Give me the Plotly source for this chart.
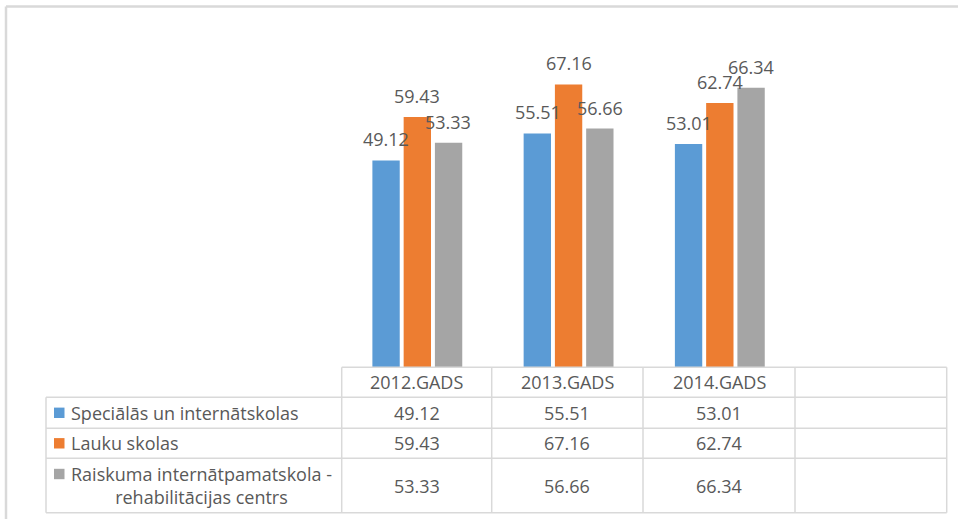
import plotly.graph_objects as go

# Data
years = ["2012.GADS", "2013.GADS", "2014.GADS"]
series_names = ["Speciālās un internātskolas", "Lauku skolas",
                "Raiskuma internātpamatskola -<br>rehabilitācijas centrs"]
specialas = [49.12, 55.51, 53.01]
lauku = [59.43, 67.16, 62.74]
raiskuma = [53.33, 56.66, 66.34]
colors = ["#5B9BD5", "#ED7D31", "#A5A5A5"]

W, H = 958, 519
FONT = "Open Sans"
TXT = "#595959"
GRID = "#d9d9d9"


def px(x):
    return x / W


def py(y):
    return (H - y) / H


# table geometry (pixels)
col_x = [341.7, 491.7, 643.0, 795.0, 946.7]
row_y = [367.3, 397.3, 428.3, 458.3, 512.7]
label_left = 46

fig = go.Figure()
all_values = [specialas, lauku, raiskuma]
cats = years + [" "]
for name, vals, col in zip(series_names, all_values, colors):
    fig.add_trace(go.Bar(x=years, y=vals, name=name, marker=dict(color=col, line=dict(width=0)),
                         showlegend=False, hoverinfo="x+y"))

slot = (col_x[1] - col_x[0]) * (1 - 0.38) / 3
# data labels above bars
for i, vals in enumerate(all_values):
    for yr, v in zip(years, vals):
        fig.add_annotation(x=yr, y=v, xref="x", yref="y", text=f"{v:.2f}", showarrow=False,
                           xanchor="center", yanchor="bottom", yshift=7, xshift=(i - 1) * slot,
                           font=dict(family=FONT, size=18, color=TXT))

shapes = []
line = dict(color=GRID, width=1.5)
# outer frame
shapes.append(dict(type="line", xref="paper", yref="paper", x0=px(6), x1=px(958), y0=py(6.5), y1=py(6.5),
                   line=dict(color=GRID, width=2.5)))
shapes.append(dict(type="line", xref="paper", yref="paper", x0=px(6), x1=px(6), y0=py(6.5), y1=py(519),
                   line=dict(color=GRID, width=2.5)))
# table horizontal lines
for k, yy in enumerate(row_y):
    x0 = col_x[0] if k == 0 else label_left
    shapes.append(dict(type="line", xref="paper", yref="paper", x0=px(x0), x1=px(col_x[-1]),
                       y0=py(yy), y1=py(yy), line=line))
# table vertical lines
for xx in col_x:
    shapes.append(dict(type="line", xref="paper", yref="paper", x0=px(xx), x1=px(xx),
                       y0=py(row_y[0]), y1=py(row_y[-1]), line=line))
shapes.append(dict(type="line", xref="paper", yref="paper", x0=px(label_left), x1=px(label_left),
                   y0=py(row_y[1]), y1=py(row_y[-1]), line=line))

# header texts
for j, yr in enumerate(years):
    fig.add_annotation(x=px((col_x[j] + col_x[j + 1]) / 2), y=py((row_y[0] + row_y[1]) / 2),
                       xref="paper", yref="paper", text=yr, showarrow=False,
                       xanchor="center", yanchor="middle",
                       font=dict(family=FONT, size=18, color=TXT))

# rows: legend square, label, values
for r, (name, vals, col) in enumerate(zip(series_names, all_values, colors)):
    yc = (row_y[r + 1] + row_y[r + 2]) / 2
    first_line = yc if r < 2 else yc - 11.5
    shapes.append(dict(type="rect", xref="paper", yref="paper", x0=px(54), x1=px(64.5),
                       y0=py(first_line - 5.2), y1=py(first_line + 5.2), fillcolor=col, line=dict(width=0)))
    fig.add_annotation(x=px(69), y=py(yc), xref="paper", yref="paper", text=name, showarrow=False,
                       xanchor="left", yanchor="middle", align="center",
                       font=dict(family=FONT, size=18, color=TXT))
    for j, v in enumerate(vals):
        fig.add_annotation(x=px((col_x[j] + col_x[j + 1]) / 2), y=py(yc), xref="paper", yref="paper",
                           text=f"{v:.2f}", showarrow=False, xanchor="center", yanchor="middle",
                           font=dict(family=FONT, size=18, color=TXT))

fig.update_layout(
    width=W, height=H,
    margin=dict(l=0, r=0, t=0, b=0),
    paper_bgcolor="white", plot_bgcolor="white",
    barmode="group", bargap=0.38, bargroupgap=0.125,
    shapes=shapes,
    xaxis=dict(domain=[px(col_x[0]), px(col_x[-1])], categoryorder="array", categoryarray=cats,
               range=[-0.5, 3.5], showticklabels=False, showgrid=False, zeroline=False, fixedrange=True),
    yaxis=dict(domain=[py(367.3), py(30.3)], range=[0, 80], showticklabels=False,
               showgrid=False, zeroline=False, fixedrange=True),
    font=dict(family=FONT, color=TXT),
)

# drop the default page margin so the figure sits at the window's corner
fig.write_html("out.html", config={"displayModeBar": False},
               post_script="document.body.style.margin='0px';")
